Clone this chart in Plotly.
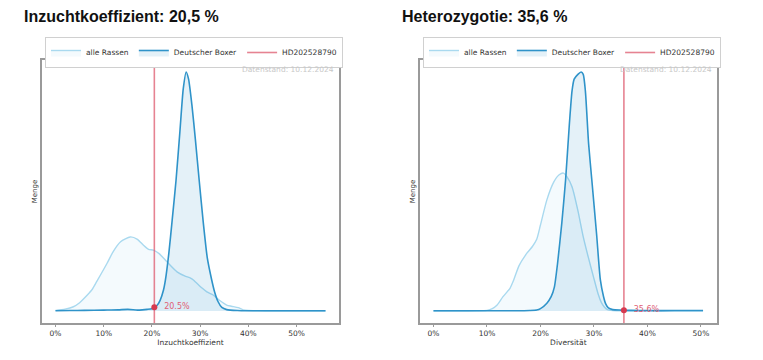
import plotly.graph_objects as go
import numpy as np

# ---------------- data ----------------
# Left chart: Inzuchtkoeffizient (%)
inz_all_x = [0, 2, 3.7, 5, 6.6, 7.6, 8.6, 10.7, 12, 13.5, 15.5, 17, 18.2, 19.3, 20.3, 21.5, 23.1, 25.2,
             27, 28, 28.6, 30.4, 31.4, 32.7, 34, 35.5, 36.5, 37.9, 38.9, 40, 42, 45, 50, 56]
inz_all_y = [0.003, 0.008, 0.018, 0.035, 0.067, 0.09, 0.125, 0.2, 0.25, 0.29, 0.31, 0.3, 0.276, 0.258, 0.255,
             0.24, 0.206, 0.164, 0.145, 0.138, 0.13, 0.096, 0.08, 0.067, 0.045, 0.025, 0.02, 0.014, 0.005,
             0.002, 0.001, 0.0, 0.0, 0.0]
inz_box_x = [0, 3, 6, 10, 13, 15, 17, 18, 19, 20, 21, 21.7, 22.4, 22.8, 23.5, 24.2, 25, 25.8, 26.5, 27.1,
             27.6, 28.3, 29, 29.8, 30.6, 31.5, 32.4, 33, 33.7, 34.5, 35.5, 37.7, 40, 45, 50, 56]
inz_box_y = [0.001, 0.002, 0.003, 0.004, 0.005, 0.007, 0.004, 0.005, 0.007, 0.01, 0.022, 0.045, 0.088, 0.13,
             0.24, 0.38, 0.547, 0.75, 0.93, 1.0, 0.97, 0.86, 0.72, 0.547, 0.38, 0.22, 0.13, 0.08, 0.04,
             0.015, 0.006, 0.002, 0.001, 0.001, 0.001, 0.001]
inz_dog = 20.5

# Right chart: Diversität (%)
div_all_x = [0, 5, 8, 10, 11, 11.9, 13, 14.3, 15, 16, 17.5, 18.5, 19.3, 20, 21.2, 22.5, 23.5, 24.3, 25,
             25.9, 27, 28, 29, 29.9, 30.8, 31.4, 31.9, 32.5, 33.5, 35, 40, 45, 50.4]
div_all_y = [0.0, 0.0, 0.001, 0.003, 0.01, 0.025, 0.06, 0.095, 0.13, 0.19, 0.243, 0.27, 0.3, 0.36, 0.465,
             0.54, 0.57, 0.577, 0.56, 0.52, 0.42, 0.31, 0.22, 0.144, 0.07, 0.035, 0.018, 0.006, 0.002,
             0.001, 0.0, 0.0, 0.0]
div_box_x = [0, 5, 10, 15, 18, 19.3, 20, 21.2, 22, 22.6, 23.2, 24, 24.7, 25.4, 25.9, 26.3, 27, 27.6, 28,
             28.4, 29, 29.6, 30.5, 31.2, 31.8, 32.2, 32.7, 33.5, 35, 37, 40, 45, 50.4]
div_box_y = [0.001, 0.001, 0.001, 0.001, 0.002, 0.004, 0.01, 0.033, 0.06, 0.1, 0.2, 0.37, 0.549, 0.78, 0.92,
             0.97, 0.99, 1.0, 0.99, 0.92, 0.7, 0.549, 0.32, 0.13, 0.06, 0.03, 0.013, 0.006, 0.004, 0.003,
             0.002, 0.002, 0.002]
div_dog = 35.6

tick_vals = [0, 10, 20, 30, 40, 50]
tick_text = ["0%", "10%", "20%", "30%", "40%", "50%"]
series_names = ["alle Rassen", "Deutscher Boxer", "HD202528790"]
titles = ["Inzuchtkoeffizient: 20,5 %", "Heterozygotie: 35,6 %"]
x_titles = ["Inzuchtkoeffizient", "Diversität"]
y_title = "Menge"
stamp = "Datenstand: 10.12.2024"

# ---------------- style ----------------
OFF = 8                      # default page body margin
W, H = 763 - 2 * OFF, 360 - 2 * OFF
C_ALL = "#a9d9ef"
C_BOX = "#2f93c9"
C_RED = "rgba(221,90,110,0.75)"
C_DOT = "#d63a50"
FILL_ALL = "rgba(150,205,235,0.10)"
FILL_BOX = "rgba(47,147,201,0.13)"
FRAME = "#9a9a9a"
TXT = "#333333"
FONT = "DejaVu Sans"

def px_x(p):
    return (p - OFF) / W

def px_y(p):
    return 1 - (p - OFF) / H

panels = [
    dict(all_x=inz_all_x, all_y=inz_all_y, box_x=inz_box_x, box_y=inz_box_y, dog=inz_dog,
         xd=[px_x(42), px_x(339)], xr=[-2.8, 58.8], leg_x=px_x(45), title_x=px_x(22)),
    dict(all_x=div_all_x, all_y=div_all_y, box_x=div_box_x, box_y=div_box_y, dog=div_dog,
         xd=[px_x(420), px_x(716.7)], xr=[-2.52, 52.95], leg_x=px_x(423), title_x=px_x(400)),
]

fig = go.Figure()
layout = dict(
    width=W, height=H, margin=dict(l=0, r=0, t=0, b=0, autoexpand=False),
    paper_bgcolor="white", plot_bgcolor="white",
    font=dict(family=FONT, size=8, color=TXT),
    annotations=[], shapes=[],
)

for i, p in enumerate(panels):
    n = "" if i == 0 else "2"
    xa, ya = "x" + n, "y" + n
    leg = "legend" + n
    fig.add_trace(go.Scatter(
        x=p["all_x"], y=p["all_y"], mode="lines", name=series_names[0],
        line=dict(color=C_ALL, width=1.4, shape="spline", smoothing=0.6),
        fill="tozeroy", fillcolor=FILL_ALL, xaxis=xa, yaxis=ya, legend=leg, hoverinfo="skip"))
    fig.add_trace(go.Scatter(
        x=p["box_x"], y=p["box_y"], mode="lines", name=series_names[1],
        line=dict(color=C_BOX, width=1.6, shape="spline", smoothing=0.6),
        fill="tozeroy", fillcolor=FILL_BOX, xaxis=xa, yaxis=ya, legend=leg, hoverinfo="skip"))
    # red vertical line (legend entry)
    fig.add_trace(go.Scatter(
        x=[p["dog"], p["dog"]], y=[-0.05, 1.05], mode="lines", name=series_names[2],
        line=dict(color=C_RED, width=1.6), xaxis=xa, yaxis=ya, legend=leg, hoverinfo="skip"))
    # marker on the breed curve
    yv = float(np.interp(p["dog"], p["box_x"], p["box_y"]))
    fig.add_trace(go.Scatter(
        x=[p["dog"]], y=[yv], mode="markers+text", text=["  %.1f%%" % p["dog"]],
        textposition="middle right", textfont=dict(color="#e06075", size=8, family=FONT),
        marker=dict(color=C_DOT, size=6), showlegend=False, xaxis=xa, yaxis=ya, hoverinfo="skip"))

    layout["xaxis" + n] = dict(
        domain=p["xd"], range=p["xr"], anchor=ya, showgrid=False, zeroline=False, automargin=False,
        showline=True, linecolor=FRAME, linewidth=1.5, mirror=True,
        ticks="outside", ticklen=2, tickcolor=FRAME, tickvals=tick_vals, ticktext=tick_text,
        tickfont=dict(size=7.5, color=TXT, family=FONT),
        title=dict(text=x_titles[i], font=dict(size=7.5, color=TXT, family=FONT), standoff=2))
    layout["yaxis" + n] = dict(
        domain=[px_y(323), px_y(60)], range=[-0.05, 1.05], anchor=xa, showgrid=False, zeroline=False,
        automargin=False,
        showline=True, linecolor=FRAME, linewidth=1.5, mirror=True, showticklabels=False, ticks="",
        title=dict(text=y_title, font=dict(size=7, color=TXT, family=FONT), standoff=2))
    layout[leg] = dict(
        x=p["leg_x"], y=px_y(37), xanchor="left", yanchor="top", orientation="h",
        bordercolor="#d0d0d0", borderwidth=1, bgcolor="white",
        font=dict(size=7.5, color=TXT, family=FONT), itemwidth=30, tracegroupgap=0)
    layout["annotations"].append(dict(
        text="<b>%s</b>" % titles[i], xref="paper", yref="paper", x=p["title_x"], y=px_y(16),
        xanchor="left", yanchor="middle", showarrow=False,
        font=dict(family="Liberation Sans", size=16, color="#111111")))
    layout["annotations"].append(dict(
        text=stamp, xref=xa + " domain", yref=ya + " domain", x=0.99, y=0.99,
        xanchor="right", yanchor="top", showarrow=False,
        font=dict(size=7.5, color="#c8c8c8", family=FONT)))

fig.update_layout(**layout)
fig.write_html("out.html")
